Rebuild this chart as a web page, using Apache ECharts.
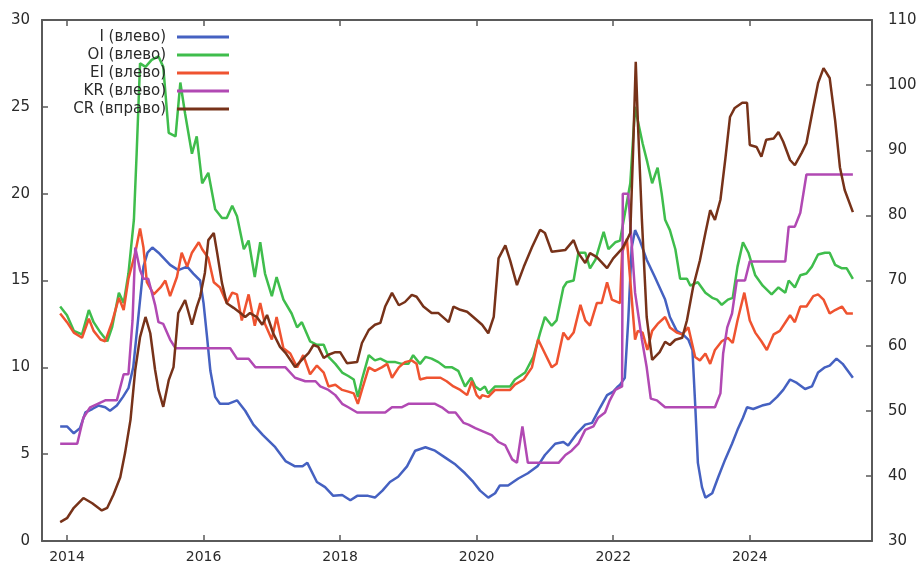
<!DOCTYPE html>
<html>
<head>
<meta charset="utf-8">
<script src="https://cdn.jsdelivr.net/npm/echarts@6/dist/echarts.min.js"></script>
<style>
html,body{margin:0;padding:0;background:#fff;}
#chart{width:923px;height:569px;}
</style>
</head>
<body>
<div id="chart"></div>
<script>
// Series names
const seriesNames = ['I (влево)', 'OI (влево)', 'EI (влево)', 'KR (влево)', 'CR (вправо)'];
// X tick labels (years)
const xTicks = [2014, 2016, 2018, 2020, 2022, 2024];

// I (left axis) [decimal year, value]
const dataI = [[2013.90,6.6],[2014.00,6.6],[2014.10,6.2],[2014.19,6.5],[2014.27,7.4],[2014.37,7.6],[2014.46,7.8],[2014.56,7.7],[2014.63,7.5],[2014.73,7.8],[2014.82,8.3],[2014.90,8.8],[2014.97,10.0],[2015.04,12.7],[2015.12,15.8],[2015.18,16.6],[2015.25,16.9],[2015.34,16.6],[2015.51,15.9],[2015.63,15.6],[2015.76,15.8],[2015.85,15.4],[2015.95,15.0],[2016.00,13.7],[2016.05,11.8],[2016.10,9.8],[2016.17,8.3],[2016.24,7.9],[2016.36,7.9],[2016.49,8.1],[2016.61,7.5],[2016.73,6.7],[2016.87,6.1],[2017.05,5.4],[2017.20,4.6],[2017.34,4.3],[2017.45,4.3],[2017.52,4.5],[2017.66,3.4],[2017.78,3.1],[2017.90,2.6],[2018.03,2.65],[2018.15,2.35],[2018.25,2.6],[2018.41,2.6],[2018.51,2.5],[2018.62,2.9],[2018.73,3.4],[2018.85,3.7],[2018.98,4.3],[2019.10,5.2],[2019.25,5.4],[2019.39,5.2],[2019.54,4.8],[2019.69,4.4],[2019.83,3.9],[2019.95,3.4],[2020.05,2.9],[2020.17,2.5],[2020.27,2.75],[2020.34,3.2],[2020.46,3.2],[2020.61,3.6],[2020.75,3.9],[2020.89,4.3],[2021.00,4.95],[2021.15,5.6],[2021.27,5.7],[2021.34,5.5],[2021.47,6.2],[2021.59,6.7],[2021.69,6.8],[2021.81,7.7],[2021.91,8.4],[2022.00,8.6],[2022.07,8.9],[2022.10,9.0],[2022.17,9.4],[2022.22,12.7],[2022.27,16.9],[2022.32,17.9],[2022.39,17.3],[2022.49,16.2],[2022.61,15.2],[2022.76,13.9],[2022.83,12.9],[2022.93,12.1],[2023.02,11.9],[2023.10,11.6],[2023.16,11.0],[2023.20,7.9],[2023.24,4.5],[2023.30,3.1],[2023.35,2.5],[2023.45,2.75],[2023.54,3.7],[2023.64,4.7],[2023.74,5.6],[2023.82,6.4],[2023.90,7.1],[2023.96,7.7],[2024.05,7.6],[2024.18,7.8],[2024.29,7.9],[2024.40,8.3],[2024.49,8.7],[2024.59,9.3],[2024.69,9.1],[2024.81,8.75],[2024.91,8.9],[2025.00,9.7],[2025.10,10.0],[2025.17,10.1],[2025.27,10.5],[2025.36,10.2],[2025.51,9.4]];

// OI (left axis)
const dataOI = [[2013.90,13.5],[2014.00,13.0],[2014.10,12.1],[2014.22,11.9],[2014.32,13.3],[2014.39,12.6],[2014.49,12.0],[2014.59,11.5],[2014.66,12.3],[2014.76,14.3],[2014.83,13.7],[2014.90,15.4],[2014.98,18.5],[2015.02,22.3],[2015.07,27.5],[2015.15,27.3],[2015.24,27.7],[2015.34,27.9],[2015.41,27.3],[2015.49,23.5],[2015.59,23.3],[2015.66,26.4],[2015.73,24.6],[2015.83,22.3],[2015.90,23.3],[2015.98,20.6],[2016.07,21.2],[2016.17,19.1],[2016.27,18.6],[2016.34,18.6],[2016.42,19.3],[2016.49,18.7],[2016.59,16.8],[2016.66,17.3],[2016.75,15.2],[2016.83,17.2],[2016.90,15.4],[2017.00,14.1],[2017.07,15.2],[2017.17,13.9],[2017.29,13.1],[2017.37,12.3],[2017.44,12.6],[2017.56,11.5],[2017.66,11.3],[2017.76,11.3],[2017.83,10.6],[2017.93,10.2],[2018.03,9.7],[2018.12,9.5],[2018.20,9.3],[2018.26,8.3],[2018.32,9.3],[2018.42,10.7],[2018.51,10.4],[2018.59,10.5],[2018.69,10.3],[2018.81,10.3],[2018.90,10.2],[2019.00,10.2],[2019.07,10.7],[2019.17,10.2],[2019.25,10.6],[2019.34,10.5],[2019.44,10.3],[2019.54,10.0],[2019.64,10.0],[2019.73,9.8],[2019.83,8.9],[2019.92,9.4],[2019.98,8.9],[2020.05,8.7],[2020.12,8.9],[2020.17,8.5],[2020.27,8.9],[2020.37,8.9],[2020.49,8.9],[2020.56,9.3],[2020.71,9.7],[2020.83,10.6],[2020.93,12.0],[2021.00,12.9],[2021.10,12.4],[2021.17,12.7],[2021.27,14.6],[2021.32,14.9],[2021.42,15.0],[2021.49,16.6],[2021.59,16.6],[2021.66,15.7],[2021.74,16.2],[2021.86,17.8],[2021.93,16.8],[2022.03,17.2],[2022.10,17.3],[2022.25,20.6],[2022.32,25.0],[2022.36,24.2],[2022.43,22.9],[2022.50,21.8],[2022.57,20.6],[2022.65,21.5],[2022.71,20.0],[2022.76,18.5],[2022.83,17.9],[2022.91,16.8],[2022.98,15.1],[2023.08,15.1],[2023.13,14.7],[2023.24,14.9],[2023.35,14.3],[2023.45,14.0],[2023.52,13.9],[2023.59,13.6],[2023.68,13.9],[2023.75,14.0],[2023.82,15.8],[2023.90,17.2],[2023.98,16.6],[2024.08,15.3],[2024.19,14.7],[2024.32,14.2],[2024.42,14.6],[2024.52,14.3],[2024.57,15.0],[2024.66,14.6],[2024.74,15.3],[2024.83,15.4],[2024.91,15.8],[2025.00,16.5],[2025.10,16.6],[2025.17,16.6],[2025.25,15.9],[2025.35,15.7],[2025.42,15.7],[2025.51,15.1]];

// EI (left axis)
const dataEI = [[2013.90,13.1],[2014.00,12.6],[2014.10,12.0],[2014.22,11.7],[2014.32,12.8],[2014.39,12.1],[2014.49,11.6],[2014.56,11.5],[2014.66,12.6],[2014.76,14.0],[2014.83,13.3],[2014.90,15.1],[2015.00,16.6],[2015.07,18.0],[2015.12,16.9],[2015.17,14.9],[2015.27,14.2],[2015.37,14.6],[2015.44,15.0],[2015.51,14.1],[2015.61,15.2],[2015.68,16.6],[2015.76,15.8],[2015.83,16.6],[2015.93,17.2],[2015.98,16.8],[2016.07,16.3],[2016.15,14.9],[2016.24,14.6],[2016.34,13.7],[2016.42,14.3],[2016.49,14.2],[2016.56,12.7],[2016.66,14.2],[2016.75,12.4],[2016.83,13.7],[2016.90,12.5],[2017.00,11.6],[2017.07,12.9],[2017.17,11.1],[2017.27,10.8],[2017.37,10.0],[2017.46,10.7],[2017.56,9.6],[2017.66,10.1],[2017.76,9.7],[2017.83,8.9],[2017.93,9.0],[2018.03,8.7],[2018.12,8.6],[2018.20,8.5],[2018.26,7.9],[2018.32,8.7],[2018.42,10.0],[2018.51,9.8],[2018.61,10.0],[2018.69,10.2],[2018.76,9.4],[2018.86,10.0],[2018.95,10.3],[2019.05,10.4],[2019.12,10.2],[2019.17,9.3],[2019.27,9.4],[2019.37,9.4],[2019.47,9.4],[2019.56,9.2],[2019.66,8.9],[2019.76,8.7],[2019.86,8.4],[2019.93,9.2],[2020.00,8.4],[2020.05,8.2],[2020.08,8.4],[2020.17,8.3],[2020.27,8.7],[2020.37,8.7],[2020.49,8.7],[2020.56,9.0],[2020.69,9.3],[2020.81,10.0],[2020.90,11.6],[2021.00,10.8],[2021.10,10.0],[2021.17,10.2],[2021.27,12.0],[2021.34,11.6],[2021.42,12.0],[2021.52,13.6],[2021.59,12.7],[2021.66,12.4],[2021.76,13.7],[2021.83,13.7],[2021.91,14.9],[2021.98,13.9],[2022.10,13.7],[2022.13,16.6],[2022.20,17.4],[2022.32,11.6],[2022.36,12.1],[2022.43,12.0],[2022.50,11.0],[2022.57,12.1],[2022.65,12.5],[2022.76,12.9],[2022.83,12.3],[2022.93,12.0],[2023.01,11.9],[2023.10,12.3],[2023.20,10.6],[2023.27,10.4],[2023.35,10.8],[2023.42,10.2],[2023.49,11.0],[2023.59,11.5],[2023.68,11.7],[2023.75,11.4],[2023.82,12.7],[2023.92,14.3],[2024.00,12.7],[2024.08,12.0],[2024.17,11.5],[2024.25,11.0],[2024.35,11.9],[2024.44,12.1],[2024.54,12.7],[2024.59,13.0],[2024.66,12.6],[2024.74,13.5],[2024.83,13.5],[2024.93,14.1],[2025.00,14.2],[2025.08,13.9],[2025.17,13.1],[2025.25,13.3],[2025.35,13.5],[2025.42,13.1],[2025.51,13.1]];

// KR (left axis)
const dataKR = [[2013.90,5.6],[2014.15,5.6],[2014.24,7.1],[2014.34,7.7],[2014.56,8.1],[2014.73,8.1],[2014.83,9.6],[2014.90,9.6],[2014.96,12.7],[2015.00,16.9],[2015.07,15.6],[2015.12,15.1],[2015.19,15.1],[2015.29,13.6],[2015.34,12.6],[2015.41,12.5],[2015.51,11.6],[2015.59,11.1],[2016.39,11.1],[2016.49,10.5],[2016.66,10.5],[2016.76,10.0],[2017.20,10.0],[2017.34,9.4],[2017.49,9.2],[2017.64,9.2],[2017.71,8.9],[2017.83,8.7],[2017.93,8.4],[2018.03,7.9],[2018.12,7.7],[2018.25,7.4],[2018.66,7.4],[2018.76,7.7],[2018.90,7.7],[2019.00,7.9],[2019.39,7.9],[2019.49,7.7],[2019.59,7.4],[2019.69,7.4],[2019.81,6.8],[2019.88,6.7],[2019.98,6.5],[2020.10,6.3],[2020.22,6.1],[2020.32,5.7],[2020.42,5.5],[2020.52,4.7],[2020.59,4.5],[2020.67,6.6],[2020.75,4.5],[2021.20,4.5],[2021.30,4.95],[2021.39,5.2],[2021.49,5.6],[2021.59,6.4],[2021.71,6.6],[2021.78,7.1],[2021.88,7.4],[2021.95,8.1],[2022.03,8.7],[2022.13,8.9],[2022.14,20.0],[2022.22,20.0],[2022.32,14.3],[2022.42,11.6],[2022.49,10.0],[2022.55,8.2],[2022.64,8.1],[2022.76,7.7],[2023.49,7.7],[2023.57,8.5],[2023.61,10.8],[2023.67,12.3],[2023.74,13.1],[2023.81,15.0],[2023.93,15.0],[2024.00,16.1],[2024.52,16.1],[2024.57,18.1],[2024.66,18.1],[2024.74,18.9],[2024.83,21.1],[2025.51,21.1]];

// CR (right axis)
const dataCR = [[2013.90,32.9],[2014.00,33.5],[2014.10,35.1],[2014.24,36.6],[2014.37,35.8],[2014.51,34.7],[2014.59,35.1],[2014.68,37.1],[2014.78,39.8],[2014.85,43.5],[2014.93,48.6],[2015.00,56.3],[2015.07,61.3],[2015.15,64.4],[2015.22,61.9],[2015.29,56.3],[2015.34,53.2],[2015.41,50.6],[2015.49,54.7],[2015.56,56.7],[2015.63,65.0],[2015.73,67.0],[2015.83,63.2],[2015.90,65.9],[2015.95,67.5],[2016.02,71.2],[2016.07,76.2],[2016.15,77.3],[2016.20,74.2],[2016.27,69.6],[2016.34,66.5],[2016.44,65.8],[2016.54,65.0],[2016.61,64.4],[2016.68,65.0],[2016.78,64.4],[2016.86,63.2],[2016.93,64.7],[2017.02,61.9],[2017.12,59.8],[2017.20,58.9],[2017.29,57.5],[2017.34,56.7],[2017.44,57.8],[2017.54,58.9],[2017.61,60.1],[2017.68,59.8],[2017.76,58.1],[2017.83,58.6],[2017.93,59.0],[2018.00,59.0],[2018.10,57.3],[2018.25,57.5],[2018.32,60.4],[2018.42,62.4],[2018.51,63.2],[2018.59,63.5],[2018.66,66.0],[2018.76,68.1],[2018.86,66.2],[2018.95,66.7],[2019.05,67.8],[2019.12,67.5],[2019.22,66.0],[2019.34,65.0],[2019.44,65.0],[2019.59,63.6],[2019.66,66.0],[2019.76,65.5],[2019.86,65.2],[2019.95,64.4],[2020.08,63.2],[2020.17,61.9],[2020.25,64.4],[2020.32,73.4],[2020.42,75.4],[2020.49,73.1],[2020.59,69.3],[2020.69,72.1],[2020.81,75.1],[2020.93,77.8],[2021.00,77.3],[2021.10,74.4],[2021.30,74.7],[2021.42,76.2],[2021.49,74.2],[2021.59,72.7],[2021.66,74.2],[2021.76,73.6],[2021.91,71.9],[2022.00,73.4],[2022.13,74.9],[2022.20,76.2],[2022.25,77.3],[2022.29,89.6],[2022.33,103.6],[2022.36,94.6],[2022.42,79.3],[2022.49,64.4],[2022.57,57.8],[2022.68,59.0],[2022.76,60.6],[2022.83,60.1],[2022.91,60.9],[2023.01,61.2],[2023.08,63.9],[2023.17,69.0],[2023.27,73.1],[2023.35,77.3],[2023.42,80.8],[2023.49,79.3],[2023.57,82.4],[2023.64,88.5],[2023.71,95.1],[2023.78,96.5],[2023.89,97.3],[2023.96,97.3],[2024.00,90.8],[2024.10,90.5],[2024.17,89.0],[2024.24,91.6],[2024.35,91.8],[2024.42,92.8],[2024.49,91.3],[2024.59,88.5],[2024.66,87.7],[2024.76,89.6],[2024.83,91.1],[2024.93,96.6],[2025.00,100.3],[2025.08,102.6],[2025.17,101.1],[2025.25,94.6],[2025.32,87.4],[2025.39,83.9],[2025.51,80.5]];

const colors = ['#4561c1', '#3fbd4c', '#ef5330', '#b149b3', '#773219'];
const seriesData = [dataI, dataOI, dataEI, dataKR, dataCR];
const yAxisIndex = [0, 0, 0, 0, 1];

const axisColor = '#5a5a5a';
const labelStyle = { color: '#2a2a2a', fontSize: 15, fontFamily: 'DejaVu Sans' };

const chart = echarts.init(document.getElementById('chart'), null, { renderer: 'canvas' });
chart.setOption({
  animation: false,
  backgroundColor: '#ffffff',
  color: colors,
  grid: { left: 42, right: 51, top: 20, bottom: 28, containLabel: false },
  legend: {
    data: seriesNames,
    orient: 'vertical',
    align: 'right',
    right: 694,
    top: 28,
    itemWidth: 52,
    itemHeight: 3,
    itemGap: 0,
    icon: 'rect',
    padding: 0,
    textStyle: { color: '#2a2a2a', fontSize: 15, fontFamily: 'DejaVu Sans', lineHeight: 18, padding: [0, 6, 0, 0] }
  },
  xAxis: [
    {
      type: 'value', min: 2013.634, max: 2025.79, position: 'bottom',
      axisLine: { show: true, lineStyle: { color: axisColor, width: 2 } },
      axisTick: { show: true, inside: true, length: 6, customValues: xTicks, lineStyle: { color: axisColor, width: 1.5 } },
      axisLabel: { show: true, customValues: xTicks, margin: 9, ...labelStyle, fontSize: 14, formatter: v => String(v) },
      splitLine: { show: false }
    },
    {
      type: 'value', min: 2013.634, max: 2025.79, position: 'top',
      axisLine: { show: true, lineStyle: { color: axisColor, width: 2 } },
      axisTick: { show: true, inside: true, length: 6, customValues: xTicks, lineStyle: { color: axisColor, width: 1.5 } },
      axisLabel: { show: false },
      splitLine: { show: false }
    }
  ],
  yAxis: [
    {
      type: 'value', min: 0, max: 30, interval: 5, position: 'left',
      axisLine: { show: true, lineStyle: { color: axisColor, width: 2 } },
      axisTick: { show: true, inside: true, length: 6, lineStyle: { color: axisColor, width: 1.5 } },
      axisLabel: { margin: 12, ...labelStyle },
      splitLine: { show: false }
    },
    {
      type: 'value', min: 30, max: 110, interval: 10, position: 'right',
      axisLine: { show: true, lineStyle: { color: axisColor, width: 2 } },
      axisTick: { show: true, inside: true, length: 6, lineStyle: { color: axisColor, width: 1.5 } },
      axisLabel: { margin: 16, ...labelStyle },
      splitLine: { show: false }
    }
  ],
  series: seriesNames.map((name, i) => ({
    name,
    type: 'line',
    xAxisIndex: 0,
    yAxisIndex: yAxisIndex[i],
    data: seriesData[i],
    showSymbol: false,
    symbol: 'none',
    lineStyle: { width: 2.5, color: colors[i] },
    itemStyle: { color: colors[i] },
    z: 2 + i
  }))
});
</script>
</body>
</html>
